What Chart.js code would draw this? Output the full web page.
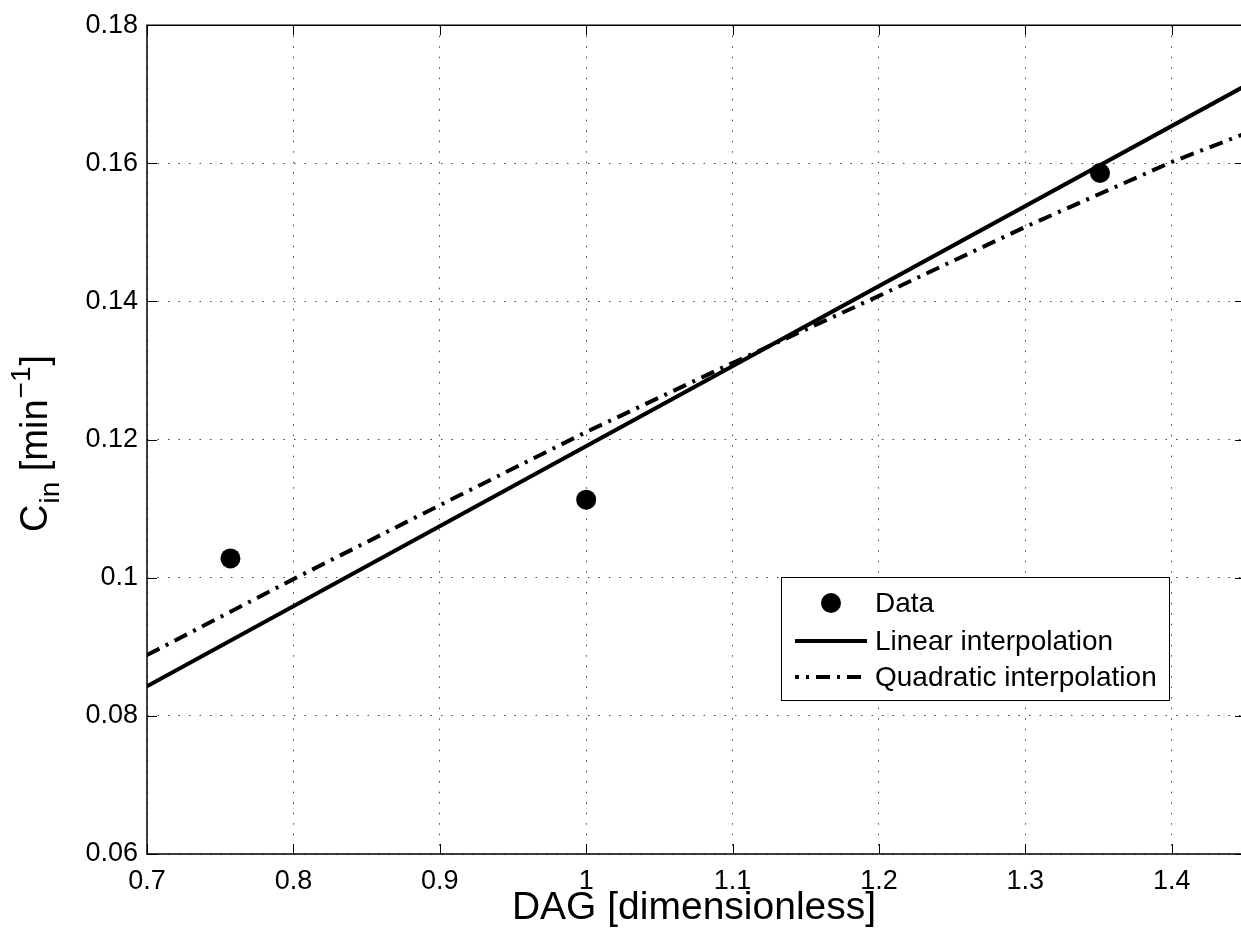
<!DOCTYPE html>
<html>
<head>
<meta charset="utf-8">
<script src="https://cdn.jsdelivr.net/npm/chart.js@4.4.1/dist/chart.umd.min.js"></script>
<style>
html, body { margin: 0; padding: 0; background: #fff; overflow: hidden; }
canvas { display: block; }
</style>
</head>
<body>
<canvas id="cinChart" width="1241" height="932"></canvas>
<script>
// values
var dataX = [0.757, 1.0, 1.351];
var dataY = [0.1028, 0.1113, 0.1586];

var linearX = [0.7, 1.45];
var linearY = [0.0843, 0.1712];

var quadX = [0.7, 0.8, 0.9, 1.0, 1.1, 1.2, 1.3, 1.4, 1.45];
var quadY = [0.0888, 0.0998, 0.1105, 0.1211, 0.1311, 0.1408, 0.1508, 0.1602, 0.1643];

var xTicks = [0.7, 0.8, 0.9, 1.0, 1.1, 1.2, 1.3, 1.4];
var xTickLabels = ['0.7', '0.8', '0.9', '1', '1.1', '1.2', '1.3', '1.4'];
var yTicks = [0.06, 0.08, 0.1, 0.12, 0.14, 0.16, 0.18];
var yTickLabels = ['0.06', '0.08', '0.1', '0.12', '0.14', '0.16', '0.18'];

// the picture is cut just before the right edge of the axes (x = 1.45)
var xMin = 0.7, xMax = 1.4473;
var yMin = 0.06, yMax = 0.18;

var seriesNames = ['Data', 'Linear interpolation', 'Quadratic interpolation'];
var xTitle = 'DAG [dimensionless]';

var FONT = '"Liberation Sans", Arial, Helvetica, sans-serif';
var QUAD_DASH = [14, 7, 3, 7];

function pts(xs, ys) {
    return xs.map(function (x, i) { return { x: x, y: ys[i] }; });
}

// frame, inward ticks (MATLAB style), legend box and y label with sub/superscript
var matlabBits = {
    id: 'matlabBits',
    afterDatasetsDraw: function (chart) {
        var ctx = chart.ctx, a = chart.chartArea;
        var xs = chart.scales.x, ys = chart.scales.y;
        ctx.save();
        ctx.strokeStyle = '#000';
        ctx.lineWidth = 1;
        ctx.beginPath();
        xTicks.forEach(function (v) {
            var px = Math.round(xs.getPixelForValue(v)) + 0.5;
            ctx.moveTo(px, a.bottom); ctx.lineTo(px, a.bottom - 10);
            ctx.moveTo(px, a.top); ctx.lineTo(px, a.top + 10);
        });
        yTicks.forEach(function (v) {
            var py = Math.round(ys.getPixelForValue(v)) + 0.5;
            ctx.moveTo(a.left, py); ctx.lineTo(a.left + 10, py);
            ctx.moveTo(a.right, py); ctx.lineTo(a.right - 6, py);
        });
        ctx.stroke();
        // left, top and bottom spines (right one falls outside the picture)
        ctx.lineWidth = 1.5;
        ctx.beginPath();
        ctx.moveTo(a.right + 2, a.top); ctx.lineTo(a.left, a.top);
        ctx.lineTo(a.left, a.bottom); ctx.lineTo(a.right + 2, a.bottom);
        ctx.stroke();
        ctx.restore();
    },
    afterDraw: function (chart) {
        var ctx = chart.ctx;
        var ds = chart.data.datasets;

        // legend
        var lx = 781, ly = 577, lw = 388, lh = 123;
        ctx.save();
        ctx.fillStyle = '#fff';
        ctx.fillRect(lx, ly, lw, lh);
        ctx.strokeStyle = '#000';
        ctx.lineWidth = 1;
        ctx.strokeRect(lx + 0.5, ly + 0.5, lw, lh);
        var rows = [603, 641, 677];
        ctx.font = '28px ' + FONT;
        ctx.textBaseline = 'middle';
        ds.forEach(function (d, i) {
            var cy = rows[i];
            if (i === 0) {
                ctx.fillStyle = '#000';
                ctx.beginPath();
                ctx.arc(831, cy, 10, 0, Math.PI * 2);
                ctx.fill();
            } else {
                ctx.strokeStyle = '#000';
                ctx.lineWidth = 4;
                ctx.setLineDash(d.borderDash || []);
                ctx.lineDashOffset = d.borderDash ? 10 : 0;
                ctx.beginPath();
                ctx.moveTo(795, cy);
                ctx.lineTo(867, cy);
                ctx.stroke();
                ctx.setLineDash([]);
            }
            ctx.fillStyle = '#000';
            ctx.fillText(d.label, 875, cy + 1);
        });
        ctx.restore();

        // y axis title: C_in [min^-1]
        ctx.save();
        ctx.translate(47, 532);
        ctx.rotate(-Math.PI / 2);
        ctx.fillStyle = '#000';
        ctx.textBaseline = 'alphabetic';
        var big = '38px ' + FONT, small = '28px ' + FONT;
        var x = 0;
        ctx.font = big; ctx.fillText('C', x, 0); x += ctx.measureText('C').width + 1;
        ctx.font = small; ctx.fillText('in', x, 12); x += ctx.measureText('in').width;
        ctx.font = big; ctx.fillText(' [min', x, 0); x += ctx.measureText(' [min').width + 1;
        ctx.font = small; ctx.fillText('\u22121', x, -17); x += ctx.measureText('\u22121').width + 1;
        ctx.font = big; ctx.fillText(']', x, 0);
        ctx.restore();
    }
};

var ctx = document.getElementById('cinChart');
var chart = new Chart(ctx, {
    type: 'scatter',
    data: {
        datasets: [{
            label: seriesNames[0],
            data: pts(dataX, dataY),
            showLine: false,
            pointRadius: 10,
            pointBackgroundColor: '#000',
            pointBorderWidth: 0,
            order: 1
        }, {
            label: seriesNames[1],
            data: pts(linearX, linearY),
            showLine: true,
            borderColor: '#000',
            borderWidth: 4,
            pointRadius: 0,
            order: 2
        }, {
            label: seriesNames[2],
            data: pts(quadX, quadY),
            showLine: true,
            borderColor: '#000',
            borderWidth: 4,
            borderDash: QUAD_DASH,
            pointRadius: 0,
            order: 3
        }]
    },
    options: {
        responsive: false,
        animation: false,
        devicePixelRatio: 1,
        layout: { autoPadding: false, padding: { top: 24, right: 0, left: 0, bottom: 0 } },
        plugins: {
            legend: { display: false },
            tooltip: { enabled: false }
        },
        scales: {
            x: {
                type: 'linear',
                min: xMin,
                max: xMax,
                afterBuildTicks: function (s) { s.ticks = xTicks.map(function (v) { return { value: v }; }); },
                afterFit: function (s) { s.height = 78; s.paddingLeft = 0; s.paddingRight = 0; },
                ticks: {
                    color: '#000',
                    font: { family: FONT, size: 27 },
                    padding: 11,
                    maxRotation: 0,
                    autoSkip: false,
                    callback: function (v, i) { return xTickLabels[i]; }
                },
                grid: { color: '#444', lineWidth: 1, drawTicks: false },
                border: { display: false, dash: [1.5, 9] },
                title: {
                    display: true,
                    text: xTitle,
                    color: '#000',
                    font: { family: FONT, size: 39 },
                    padding: { top: 0, bottom: 0 }
                }
            },
            y: {
                type: 'linear',
                min: yMin,
                max: yMax,
                afterBuildTicks: function (s) { s.ticks = yTicks.map(function (v) { return { value: v }; }); },
                afterFit: function (s) { s.width = 147; },
                ticks: {
                    color: '#000',
                    font: { family: FONT, size: 27 },
                    padding: 9,
                    autoSkip: false,
                    callback: function (v, i) { return yTickLabels[i]; }
                },
                grid: { color: '#444', lineWidth: 1, drawTicks: false },
                border: { display: false, dash: [1.5, 9] }
            }
        }
    },
    plugins: [matlabBits]
});
</script>
</body>
</html>
